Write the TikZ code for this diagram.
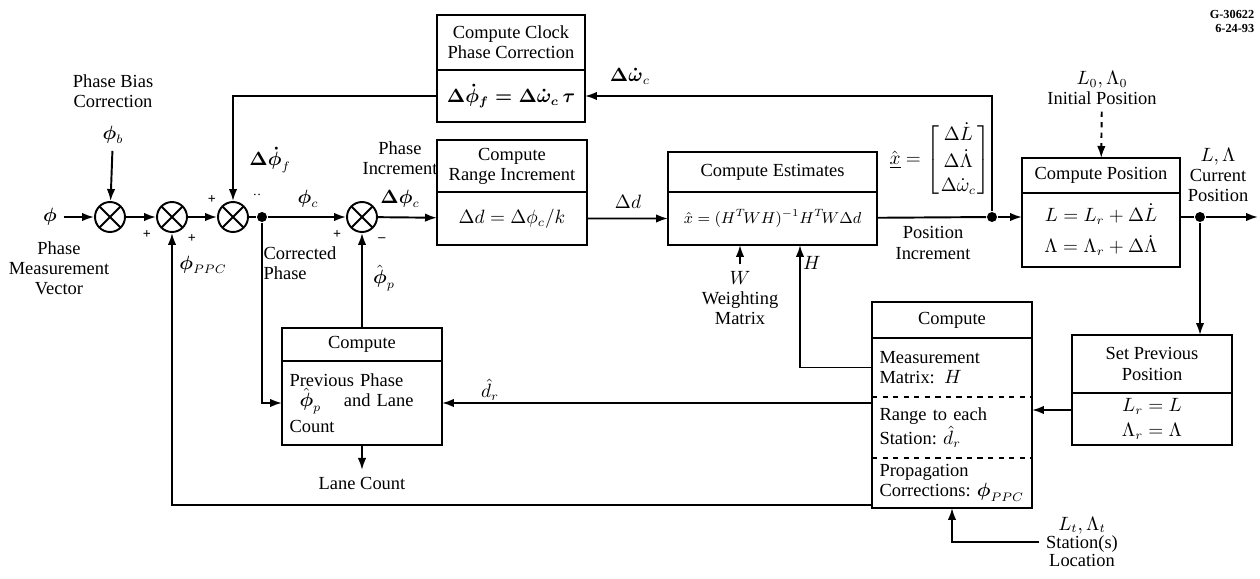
\documentclass[tikz,border=0pt]{standalone}
\usepackage{amsmath}
\usepackage{fontspec}
\setmainfont{Liberation Serif}
\usetikzlibrary{arrows.meta,positioning}

\begin{document}
\begin{tikzpicture}[x=0.02cm,y=-0.02cm,
  font=\fontsize{10.5}{11.5}\selectfont,
  line width=1.1pt,
  arr/.style={-{Latex[length=0.24cm,width=0.17cm]}},
  sumnode/.style={circle,draw,minimum size=0.6cm,inner sep=0pt,
    path picture={\draw (path picture bounding box.south west) -- (path picture bounding box.north east)
      (path picture bounding box.north west) -- (path picture bounding box.south east);}},
  blk/.style={draw,line width=1.3pt,outer sep=0pt,align=center,inner sep=1pt},
  part/.style={outer sep=0pt,inner sep=2pt,align=left,text width=2.9cm,minimum width=3.2cm},
  dot/.style={circle,fill,inner sep=0pt,minimum size=0.2cm}]
  \useasboundingbox (0,0) rectangle (1260,578);

  % summing junctions and inputs
  \node (phiin) at (50,217) {$\boldsymbol{\phi}$};
  \node[align=center] (pmv) at (59,268) {Phase\\Measurement\\Vector};
  \node[align=center] (pbc) at (113,91) {Phase Bias\\Correction};
  \node (phib) at (113,135) {$\boldsymbol{\phi}_b$};
  \node[sumnode] (s1) at (110,217) {};
  \node[sumnode] (s2) at (172,217) {};
  \node[sumnode] (s3) at (233,217) {};
  \node[sumnode] (s4) at (362,217) {};
  \node[dot] (j1) at (262,217) {};
  \node[dot] (j2) at (992,217) {};
  \node[dot] (j3) at (1200,217) {};
  \coordinate (out) at (1258,217);

  % blocks
  \node[blk,minimum width=2.96cm,minimum height=1.1cm] (clkT) at (511,42.5) {Compute Clock\\Phase Correction};
  \node[blk,minimum width=2.96cm,minimum height=1.04cm,below=0pt of clkT] (clkB) {$\boldsymbol{\Delta\dot{\phi}_f = \Delta\dot{\omega}_c\,\tau}$};
  \node[blk,minimum width=3cm,minimum height=1.04cm] (rngT) at (512,166) {Compute\\Range Increment};
  \node[blk,minimum width=3cm,minimum height=1.06cm,below=0pt of rngT] (rngB) {$\Delta d = \Delta\phi_c/k$};
  \node[blk,minimum width=4.18cm,minimum height=0.8cm] (estT) at (772.5,172) {Compute Estimates};
  \node[blk,minimum width=4.18cm,minimum height=1.06cm,below=0pt of estT,font=\small] (estB) {$\hat{x} = (H^T\!WH)^{-1}H^T\!W\Delta d$};
  \node[blk,minimum width=3.16cm,minimum height=0.7cm] (posT) at (1101,175.5) {Compute Position};
  \node[blk,minimum width=3.16cm,minimum height=1.48cm,below=0pt of posT] (posB) {$L = L_r + \Delta\dot{L}$\\[5pt]$\Lambda = \Lambda_r + \Delta\dot{\Lambda}$};
  \node[blk,minimum width=3.2cm,minimum height=0.66cm] (prvT) at (362,344.5) {Compute};
  \node[blk,part,minimum height=1.68cm,below=0pt of prvT] (prvB) {Previous Phase\\\hspace*{0.2cm}$\hat{\boldsymbol{\phi}}_p$\hspace{0.45cm}and Lane\\[3pt]Count};
  \node[blk,minimum width=3.2cm,minimum height=0.72cm] (msrT) at (952,320) {Compute};
  \node[part,minimum height=1.18cm,below=0pt of msrT] (msr1) {Measurement\\Matrix: $H$};
  \node[part,minimum height=1.22cm,below=0pt of msr1] (msr2) {Range to each\\Station:\ $\hat{d}_r$};
  \node[part,minimum height=1.0cm,below=0pt of msr2] (msr3) {Propagation\\Corrections:\ $\boldsymbol{\phi}_{PPC}$};
  \draw[line width=1.3pt] (msrT.south west) rectangle (msr3.south east);
  \draw[dashed] (msr1.south west) -- (msr1.south east) (msr2.south west) -- (msr2.south east);
  \node[blk,minimum width=3.2cm,minimum height=1.16cm] (setT) at (1152,364) {Set Previous\\Position};
  \node[blk,minimum width=3.2cm,minimum height=1.04cm,below=0pt of setT] (setB) {$L_r = L$\\[3pt]$\Lambda_r = \Lambda$};

  % labels
  \node (lane) at (362,483) {Lane Count};
  \node[align=center] (wlab) at (740,298) {$W$\\Weighting\\Matrix};
  \node[align=center,font=\fontsize{10.5}{10.5}\selectfont] (stn) at (1082,542) {$L_t,\Lambda_t$\\Station(s)\\Location};
  \node[align=center] (init) at (1102,88) {$L_0,\Lambda_0$\\Initial Position};
  \node[align=center] (cur) at (1218,175) {$L,\Lambda$\\Current\\Position};
  \node[inner sep=0pt] (xvec) at (940,160) {$\hat{\underline{x}} = \setlength\arraycolsep{1pt}\left[\begin{array}{c}\Delta\dot{L}\\[2pt] \Delta\dot{\Lambda}\\[2pt] \Delta\dot{\omega}_c\end{array}\right]$};
  \node[align=center] (pinc) at (933,243) {Position\\Increment};
  \node[align=center] (phinc) at (400,158) {Phase\\Increment};
  \node (dphic) at (400,199) {$\boldsymbol{\Delta\phi}_c$};
  \node (phic) at (308,199) {$\boldsymbol{\phi}_c$};
  \node[align=left] (corr) at (300,263) {Corrected\\Phase};
  \node (phip) at (384,278) {$\hat{\boldsymbol{\phi}}_p$};
  \node (dphif) at (270,160) {$\boldsymbol{\Delta\dot{\phi}}_f$};
  \node (phippc) at (203,265) {$\boldsymbol{\phi}_{PPC}$};
  \node (dd) at (628,202) {$\Delta d$};
  \node (domc) at (630,76) {$\boldsymbol{\Delta\dot{\omega}}_c$};
  \node (dr) at (490,390) {$\hat{d}_r$};
  \node (hlab) at (812,263) {$H$};
  \foreach \x/\y/\s in {147/235/+, 192/239/+, 212/200/+, 337/235/+, 382/240/--, 257/195/$\cdot\cdot$} {
    \node[font=\footnotesize\bfseries] at (\x,\y) {\s};
  }
  \node[font=\scriptsize\bfseries,align=right] (gno) at (1232,21) {G-30622\\6-24-93};

  % connectors
  \draw[arr] (phiin) -- (s1);
  \draw[arr] (phib) -- (s1);
  \draw[arr] (s1) -- (s2);
  \draw[arr] (s2) -- (s3);
  \draw (s3) -- (j1);
  \draw[arr] (j1) -- (s4);
  \draw[arr] (s4) -- (rngB);
  \draw[arr] (rngB) -- (estB);
  \draw (estB) -- (j2);
  \draw[arr] (j2) -- (j2 -| posB.west);
  \draw (j2 -| posB.east) -- (j3);
  \draw[arr] (j3) -- (out);
  \draw[arr] (j3) -- (j3 |- setT.north);
  \draw[arr] (j2) |- (clkB);
  \draw[arr] (clkB) -| (s3);
  \draw[arr] (j1) |- (prvB);
  \draw[arr] (prvT) -- (s4);
  \draw[arr] (prvB) -- (lane);
  \draw[arr] (msr2.west |- prvB) -- (prvB);
  \draw[arr] ([yshift=0.06cm]msr3.south west) -| (s2);
  \draw[arr] (msr1.west) -| ([xshift=0.55cm]estB.south);
  \draw[arr] (wlab) -- (wlab |- estB.south);
  \draw[arr] (setB.west |- 0,410) -- (msr2.east |- 0,410);
  \draw[arr] (stn.west) -| (msr3.south);
  \draw[arr,dashed] (init) -- (posT);
\end{tikzpicture}
\end{document}
